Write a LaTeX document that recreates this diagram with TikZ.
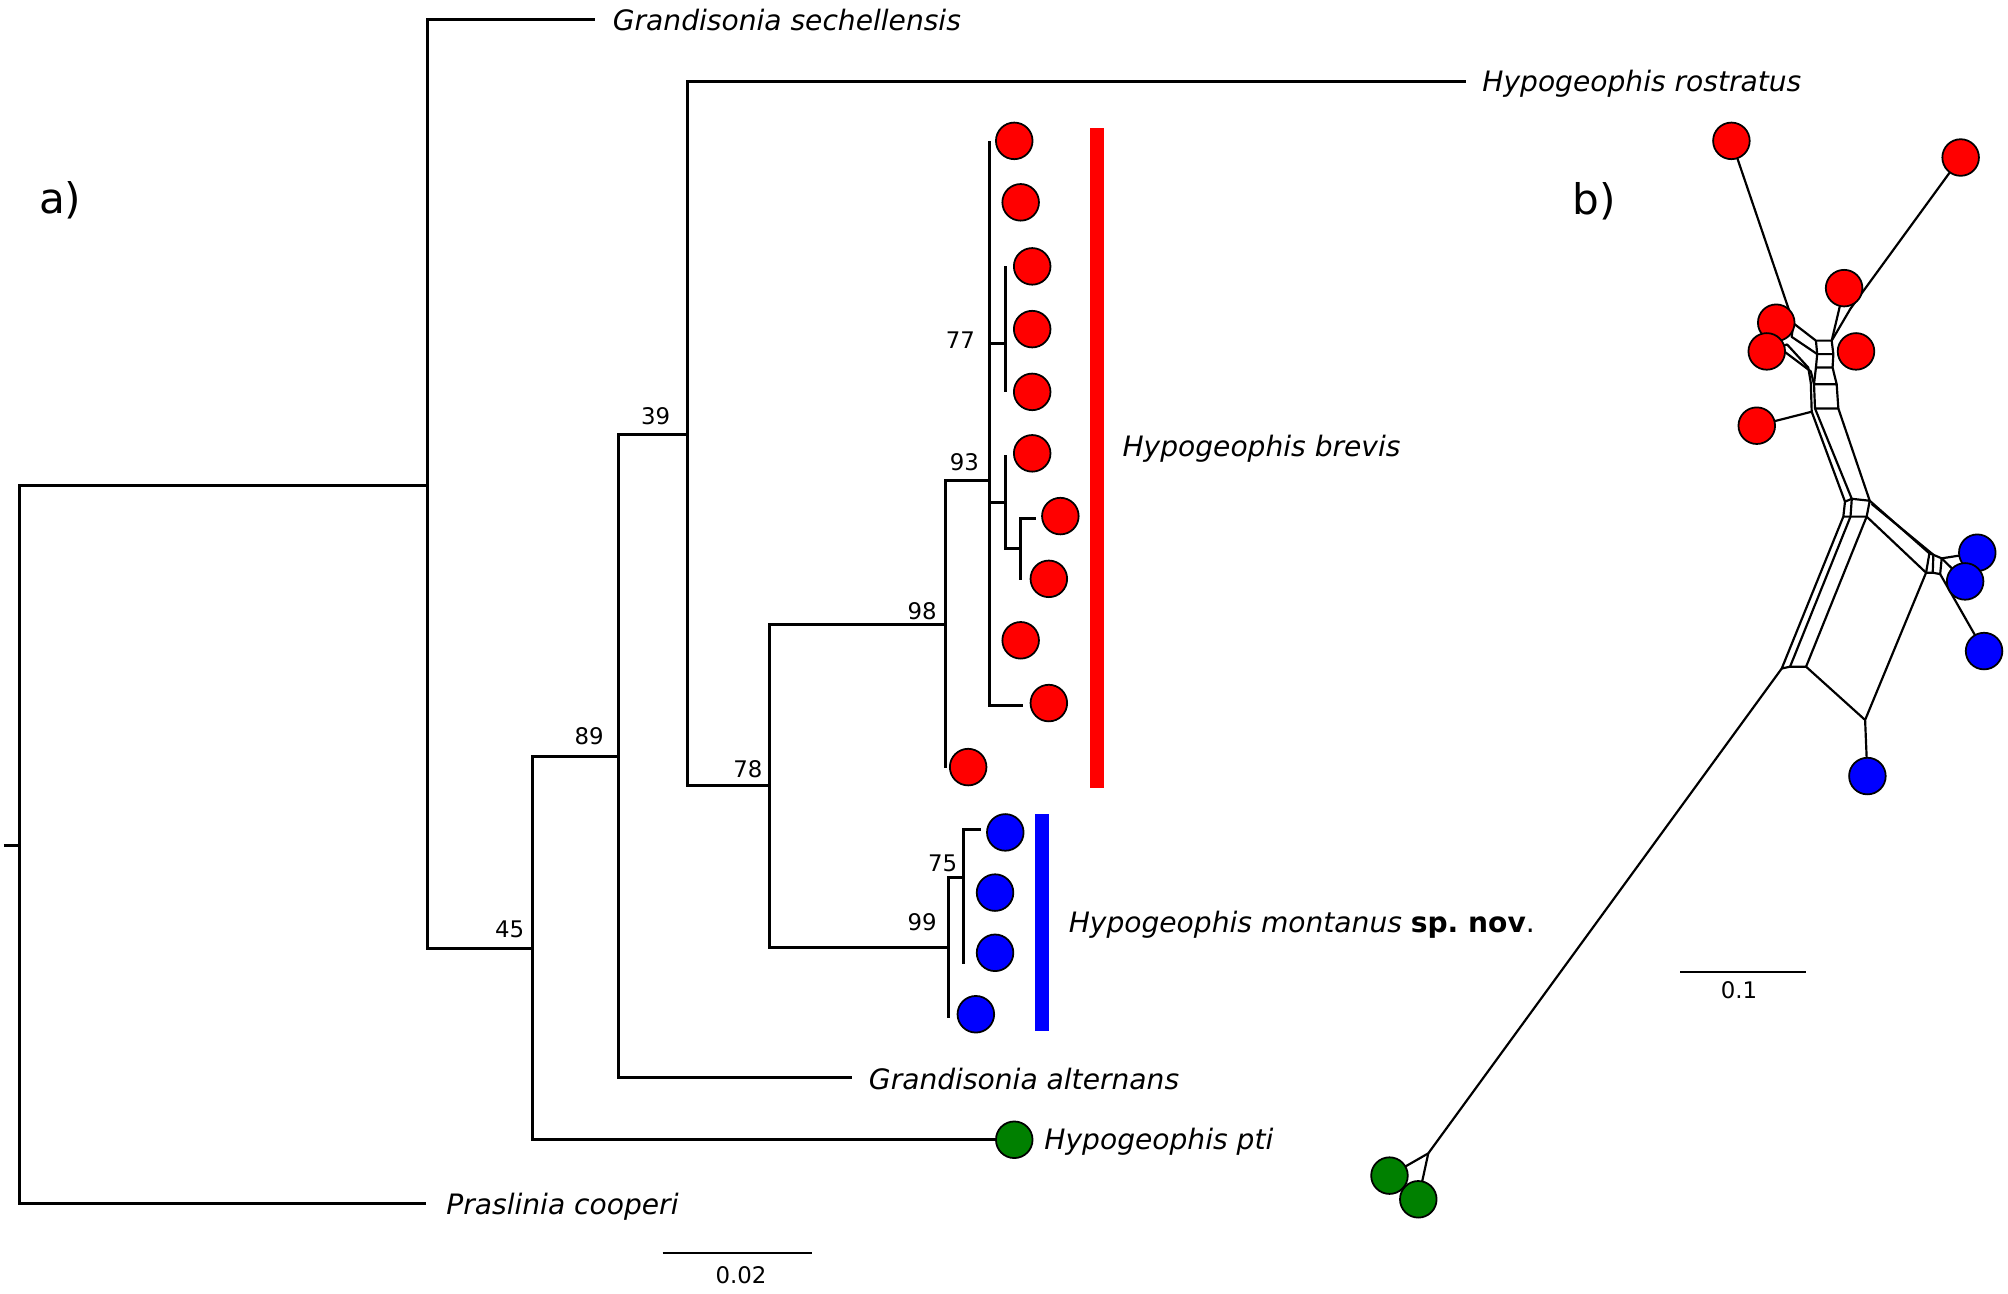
\documentclass[tikz,border=0pt]{standalone}
\usepackage{fontspec}
\setmainfont{DejaVu Sans}
\usetikzlibrary{backgrounds}

\definecolor{ptigreen}{RGB}{0,128,0}

\begin{document}
\begin{tikzpicture}[x=0.12806mm,y=-0.12806mm,
  branch/.style={line width=0.85pt},
  net/.style={line width=0.62pt,line join=round},
  leaf/.style={circle,draw,line width=0.5pt,minimum size=3.66mm,inner sep=0pt},
  taxon/.style={anchor=mid west,inner sep=0pt,font=\fontsize{8}{9}\selectfont\itshape},
  boot/.style={inner sep=0pt,font=\fontsize{6.5}{7}\selectfont},
  panel/.style={inner sep=0pt,font=\fontsize{12}{14}\selectfont}]
  \useasboundingbox (0,0) rectangle (1568,1010);

  % a) tree
  \node[panel] (lbla) at (47,156) {a)};
  \coordinate (stub) at (3,660);
  \coordinate (root) at (15,660);
  \coordinate (nA) at (334,379);
  \coordinate (n45) at (416,741);
  \coordinate (n89) at (483,591);
  \coordinate (n39) at (537,339);
  \coordinate (n78) at (601,613);
  \coordinate (n98) at (738,488);
  \coordinate (n93) at (773,375);
  \coordinate (n77) at (785,268);
  \coordinate (n5) at (785,392);
  \coordinate (n6) at (797,428);
  \coordinate (n99) at (741,740);
  \coordinate (n75) at (752,685);

  \coordinate (tSech) at (465,15);
  \coordinate (tRost) at (1145,64);
  \coordinate (tAlt) at (665,841);
  \coordinate (tPras) at (333,940);

  % leaves of H. brevis and H. montanus
  \foreach \name/\x/\y in {r1/792/110,r2/797/158,r3/806/208,r4/806/257,r5/806/306,
      r6/806/354,r7/828/403,r8/819/452,r9/797/500,r10/819/549,r11/756/599}
    \node[leaf,fill=red] (\name) at (\x,\y) {};
  \foreach \name/\x/\y in {b1/785/650,b2/777/697,b3/777/744,b4/762/792}
    \node[leaf,fill=blue] (\name) at (\x,\y) {};
  \node[leaf,fill=ptigreen] (pti) at (792,890) {};

  \coordinate (t1) at (773,110);
  \coordinate (t3) at (785,208);
  \coordinate (t5) at (785,306);
  \coordinate (t6) at (785,355);
  \coordinate (t7) at (809,405);
  \coordinate (t8) at (797,453);
  \coordinate (t10) at (799,551);
  \coordinate (t11) at (738,600);
  \coordinate (tb1) at (766,648);
  \coordinate (tb3) at (752,753);
  \coordinate (tb4) at (741,795);

  \draw[branch] (stub) -- (root);
  \draw[branch] (root) |- (nA);
  \draw[branch] (root) |- (tPras);
  \draw[branch] (nA) |- (tSech);
  \draw[branch] (nA) |- (n45);
  \draw[branch] (n45) |- (n89);
  \draw[branch] (n45) |- (pti.west);
  \draw[branch] (n89) |- (n39);
  \draw[branch] (n89) |- (tAlt);
  \draw[branch] (n39) |- (tRost);
  \draw[branch] (n39) |- (n78);
  \draw[branch] (n78) |- (n98);
  \draw[branch] (n78) |- (n99);
  \draw[branch] (n98) |- (n93);
  \draw[branch] (n98) |- (t11);
  \draw[branch] (n93) |- (t1);
  \draw[branch] (n93) |- (n77);
  \draw[branch] (n77) |- (t3);
  \draw[branch] (n77) |- (t5);
  \draw[branch] (n93) |- (n5);
  \draw[branch] (n5) |- (t6);
  \draw[branch] (n5) |- (n6);
  \draw[branch] (n6) |- (t7);
  \draw[branch] (n6) |- (t8);
  \draw[branch] (n93) |- (t10);
  \draw[branch] (n99) |- (n75);
  \draw[branch] (n99) |- (tb4);
  \draw[branch] (n75) |- (tb1);
  \draw[branch] (n75) |- (tb3);

  \node[boot] (bs39) at (512,325) {39};
  \node[boot] (bs89) at (460,575) {89};
  \node[boot] (bs45) at (398,726) {45};
  \node[boot] (bs78) at (584,601) {78};
  \node[boot] (bs98) at (720,477) {98};
  \node[boot] (bs99) at (720,720) {99};
  \node[boot] (bs93) at (753,361) {93};
  \node[boot] (bs77) at (750,266) {77};
  \node[boot] (bs75) at (736,674) {75};

  \node[taxon] (sech) at (478,16) {Grandisonia sechellensis};
  \node[taxon] (rost) at (1157,64) {Hypogeophis rostratus};
  \node[taxon] (brev) at (876,349) {Hypogeophis brevis};
  \node[taxon] (mont) at (834,721) {Hypogeophis montanus \textbf{\upshape sp.\ nov}\upshape.};
  \node[taxon] (alt) at (678,843) {Grandisonia alternans};
  \node[taxon] (ptilbl) at (815,890) {Hypogeophis pti};
  \node[taxon] (pras) at (348,941) {Praslinia cooperi};

  \fill[red] (851,100) rectangle (862,615);
  \fill[blue] (808.5,636) rectangle (819.5,805);

  \coordinate (sa1) at (517.5,978.7);
  \coordinate (sa2) at (634,978.7);
  \draw[line width=0.6pt] (sa1) -- (sa2);
  \node[boot] (sal) at (578.7,996) {0.02};

  % b) network
  \node[panel] (lblb) at (1245,157) {b)};
  \foreach \name/\x/\y in {nr1/1352/110,nr2/1531/123,nr3/1440/225,nr4/1387/252,
      nr5/1379.6/274.4,nr6/1449.3/274.4,nr7/1371.8/332.4}
    \node[leaf,fill=red] (\name) at (\x,\y) {};
  \foreach \name/\x/\y in {nb1/1544/431.6,nb2/1534.5/454,nb3/1549.3/508.4,nb4/1458.2/606}
    \node[leaf,fill=blue] (\name) at (\x,\y) {};
  \node[leaf,fill=ptigreen] (ng1) at (1085,918) {};
  \node[leaf,fill=ptigreen] (ng2) at (1107.5,936.5) {};

  \coordinate (ja) at (1400.5,252.5);
  \coordinate (jb) at (1399,263);
  \coordinate (jd) at (1445,241);
  \coordinate (q1) at (1418,266);
  \coordinate (q2) at (1430.3,266);
  \coordinate (q3) at (1419,276.5);
  \coordinate (q4) at (1431.6,276.5);
  \coordinate (q5) at (1418,287);
  \coordinate (q6) at (1431,287);
  \coordinate (e1) at (1395.5,269);
  \coordinate (e2) at (1394,275);
  \coordinate (la1) at (1412,287);
  \coordinate (la2) at (1414,299);
  \coordinate (la3) at (1414.7,321.5);
  \coordinate (lb1) at (1414,290);
  \coordinate (u1) at (1416.5,300);
  \coordinate (u2) at (1434.2,300);
  \coordinate (u3) at (1417.3,319);
  \coordinate (u4) at (1435.5,319);
  \coordinate (h1) at (1440.7,391.7);
  \coordinate (h2) at (1446,389.5);
  \coordinate (h3) at (1460,391);
  \coordinate (h3b) at (1461.5,393.5);
  \coordinate (h4) at (1439.4,403.4);
  \coordinate (h5) at (1445,403.4);
  \coordinate (h6) at (1457.6,403.4);
  \coordinate (k1) at (1391.3,522);
  \coordinate (k2) at (1397.8,520.6);
  \coordinate (k3) at (1410.3,520.6);
  \coordinate (m) at (1456.4,562.2);
  \coordinate (j1) at (1506.6,432.1);
  \coordinate (j6) at (1509.7,433.2);
  \coordinate (j2) at (1516.2,436);
  \coordinate (j3) at (1504,447.2);
  \coordinate (j5) at (1509.2,447.2);
  \coordinate (j4) at (1515,448.3);
  \coordinate (gj) at (1115.3,900.6);

  \begin{scope}[on background layer]
    \draw[net] (nr1.center) -- (ja) -- (q1) -- (q2) -- (jd) -- (nr2.center);
    \draw[net] (nr3.center) -- (q2);
    \draw[net] (nr4.center) -- (ja) -- (jb) -- (q3) -- (q4);
    \draw[net] (q1) -- (q3) -- (q5) -- (q6) -- (q4) -- (q2);
    \draw[net] (nr5.center) -- (e1) -- (la1) -- (la2) -- (la3);
    \draw[net] (e2) -- (lb1) -- (u1) -- (u2) -- (u4) -- (u3) -- (u1);
    \draw[net] (q5) -- (u1);
    \draw[net] (q6) -- (u2);
    \draw[net] (nr7.center) -- (la3) -- (h1);
    \draw[net] (u3) -- (h2);
    \draw[net] (u4) -- (h3);
    \draw[net] (h1) -- (h2) -- (h3) -- (h6) -- (h5) -- (h4) -- cycle;
    \draw[net] (h2) -- (h5);
    \draw[net] (h4) -- (k1) -- (k2) -- (k3) -- (h6);
    \draw[net] (h5) -- (k2);
    \draw[net] (k3) -- (m) -- (nb4.center);
    \draw[net] (m) -- (j3);
    \draw[net] (h6) -- (j3);
    \draw[net] (h3) -- (j1);
    \draw[net] (h3b) -- (j6);
    \draw[net] (j1) -- (j6) -- (j2) -- (j4) -- (j5) -- (j3) -- cycle;
    \draw[net] (j6) -- (j5);
    \draw[net] (j2) -- (nb1.center);
    \draw[net] (j2) -- (nb2.center);
    \draw[net] (j4) -- (nb3.center);
    \draw[net] (k1) -- (gj) -- (ng1.center);
    \draw[net] (gj) -- (ng2.center);
  \end{scope}

  \coordinate (sb1) at (1312,759);
  \coordinate (sb2) at (1410,759);
  \draw[line width=0.5pt] (sb1) -- (sb2);
  \node[boot] (sbl) at (1358,773) {0.1};
\end{tikzpicture}
\end{document}
